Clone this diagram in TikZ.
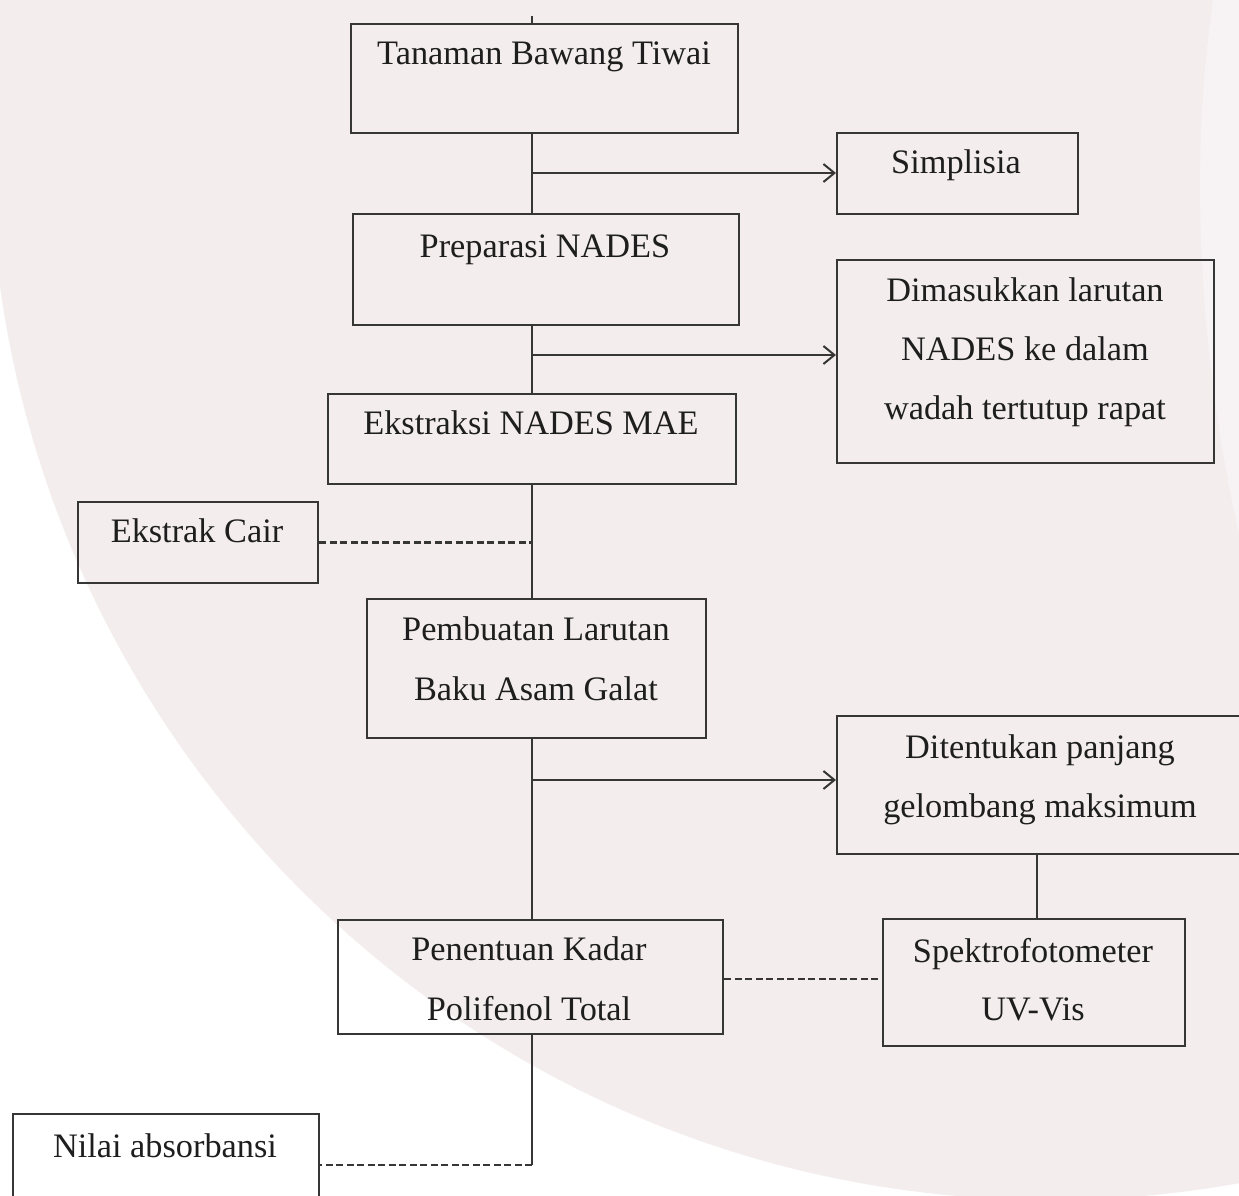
\documentclass[tikz,border=0pt]{standalone}
\usepackage{fontspec}
\setmainfont{Liberation Serif}
\usetikzlibrary{arrows.meta}
\definecolor{pinkbg}{HTML}{F3EDEE}
\definecolor{rightbg}{HTML}{F7F3F4}
\definecolor{linec}{HTML}{363636}
\definecolor{textc}{HTML}{1E1E1E}
\tikzset{
  box/.style={draw=linec, line width=2.4pt, rectangle, inner sep=0pt, anchor=north west},
  txt/.style={anchor=base, inner sep=0pt, text=textc, font=\fontsize{34.3}{40}\selectfont},
  conn/.style={draw=linec, line width=2.1pt},
  arr/.style={conn, -{Straight Barb[length=11pt,width=18pt,line width=2pt]}},
  dsh/.style={draw=linec, line width=2.5pt, dash pattern=on 7pt off 3.5pt}
}
\begin{document}
\begin{tikzpicture}[x=1pt,y=-1pt]
\clip (0,0) rectangle (1239,1196);
\useasboundingbox (0,0) rectangle (1239,1196);
% background watermark
\fill[white] (0,0) rectangle (1239,1196);
\fill[pinkbg] (1050,140) circle (1060pt);
\fill[rightbg] (1214,-5) .. controls (1190,150) and (1195,350) .. (1245,560) -- (1245,-5) -- cycle;

% boxes
\node[box, minimum width=387pt, minimum height=109pt] (A) at (350,23) {};
\node[box, minimum width=241pt, minimum height=81pt]  (S) at (836,132) {};
\node[box, minimum width=386pt, minimum height=111pt] (B) at (352,213) {};
\node[box, minimum width=377pt, minimum height=203pt] (M) at (836,259) {};
\node[box, minimum width=408pt, minimum height=90pt]  (C) at (327,393) {};
\node[box, minimum width=240pt, minimum height=81pt]  (K) at (77,501) {};
\node[box, minimum width=339pt, minimum height=139pt] (D) at (366,598) {};
\node[box, minimum width=420pt, minimum height=138pt] (T) at (836,715) {};
\node[box, minimum width=385pt, minimum height=114pt] (E) at (337,919) {};
\node[box, minimum width=302pt, minimum height=127pt] (U) at (882,918) {};
\node[box, minimum width=306pt, minimum height=130pt] (N) at (12,1113) {};

% texts
\node[txt] (At)  at (544,65)  {Tanaman Bawang Tiwai};
\node[txt] (St)  at (956,173) {Simplisia};
\node[txt] (Bt)  at (545,257) {Preparasi NADES};
\node[txt] (Mt1) at (1025,301) {Dimasukkan larutan};
\node[txt] (Mt2) at (1025,360) {NADES ke dalam};
\node[txt] (Mt3) at (1025,419) {wadah tertutup rapat};
\node[txt] (Ct)  at (531,434) {Ekstraksi NADES MAE};
\node[txt] (Kt)  at (197,542) {Ekstrak Cair};
\node[txt] (Dt1) at (536,640) {Pembuatan Larutan};
\node[txt] (Dt2) at (536,700) {Baku Asam Galat};
\node[txt] (Tt1) at (1040,758) {Ditentukan panjang};
\node[txt] (Tt2) at (1040,817) {gelombang maksimum};
\node[txt] (Et1) at (529,960) {Penentuan Kadar};
\node[txt] (Et2) at (529,1020) {Polifenol Total};
\node[txt] (Ut1) at (1033,962) {Spektrofotometer};
\node[txt] (Ut2) at (1033,1020) {UV-Vis};
\node[txt] (Nt)  at (165,1157) {Nilai absorbansi};

% helper coordinates
\coordinate (sp) at (532,0);
\coordinate (tu) at (1037,0);
\coordinate (top) at (532,16);
\coordinate (j1) at (532,173);
\coordinate (j2) at (532,355);
\coordinate (j3) at (532,780);
\coordinate (j5) at (722,979);
\coordinate (j6) at (532,1165);

% connectors
\draw[conn] (top) -- (top |- A.north);
\draw[conn] (sp |- A.south) -- (sp |- B.north);
\draw[arr] (j1) -- (j1 -| S.west);
\draw[conn] (sp |- B.south) -- (sp |- C.north);
\draw[arr] (j2) -- (j2 -| M.west);
\draw[conn] (sp |- C.south) -- (sp |- D.north);
\draw[dsh] (K.east) -- (K.east -| sp);
\draw[conn] (sp |- D.south) -- (sp |- E.north);
\draw[arr] (j3) -- (j3 -| T.west);
\draw[conn] (tu |- T.south) -- (tu |- U.north);
\draw[dsh] (j5 -| E.east) -- (j5 -| U.west);
\draw[conn] (sp |- E.south) -- (j6);
\draw[dsh] (j6) -- (j6 -| N.east);
\end{tikzpicture}
\end{document}
